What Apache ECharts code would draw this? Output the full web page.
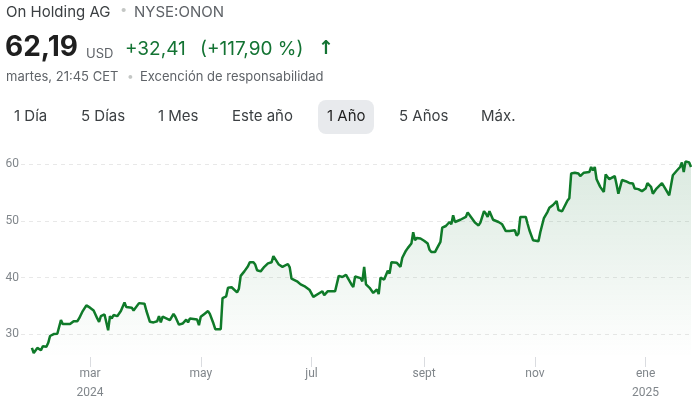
<!DOCTYPE html>
<html>
<head>
<meta charset="utf-8">
<script src="https://cdn.jsdelivr.net/npm/echarts@6/dist/echarts.min.js"></script>
<style>
html,body{margin:0;padding:0;background:#fff;}
#c{width:695px;height:399px;}
</style>
</head>
<body>
<div id="c"></div>
<script>
// ---- data ----
const dates = [
'2024-01-29','2024-01-30','2024-02-01','2024-02-03','2024-02-04','2024-02-06','2024-02-07','2024-02-08','2024-02-10','2024-02-11',
'2024-02-12','2024-02-14','2024-02-15','2024-02-17','2024-02-19','2024-02-21','2024-02-23','2024-02-24','2024-02-26','2024-02-27',
'2024-02-28','2024-03-01','2024-03-03','2024-03-04','2024-03-05','2024-03-06','2024-03-07','2024-03-09','2024-03-10','2024-03-11',
'2024-03-12','2024-03-13','2024-03-14','2024-03-16','2024-03-18','2024-03-20','2024-03-21','2024-03-24','2024-03-25','2024-03-28',
'2024-03-31','2024-04-01','2024-04-03','2024-04-05','2024-04-07','2024-04-08','2024-04-09','2024-04-10','2024-04-12','2024-04-14',
'2024-04-16','2024-04-17','2024-04-19','2024-04-21','2024-04-23','2024-04-24','2024-04-25','2024-04-27','2024-04-29','2024-04-30',
'2024-05-01','2024-05-03','2024-05-05','2024-05-06','2024-05-08','2024-05-09','2024-05-12','2024-05-13','2024-05-15','2024-05-16',
'2024-05-18','2024-05-19','2024-05-21','2024-05-22','2024-05-23','2024-05-25','2024-05-27','2024-05-28','2024-05-30','2024-05-31',
'2024-06-01','2024-06-03','2024-06-05','2024-06-07','2024-06-09','2024-06-10','2024-06-11','2024-06-13','2024-06-15','2024-06-16',
'2024-06-18','2024-06-19','2024-06-20','2024-06-23','2024-06-25','2024-06-26','2024-06-27','2024-06-30','2024-07-02','2024-07-05',
'2024-07-07','2024-07-08','2024-07-10','2024-07-12','2024-07-14','2024-07-16','2024-07-18','2024-07-20','2024-07-21','2024-07-23',
'2024-07-24','2024-07-25','2024-07-28','2024-07-29','2024-07-30','2024-07-31','2024-08-01','2024-08-02','2024-08-04','2024-08-05',
'2024-08-06','2024-08-07','2024-08-08','2024-08-10','2024-08-11','2024-08-12','2024-08-13','2024-08-14','2024-08-17','2024-08-18',
'2024-08-19','2024-08-20','2024-08-21','2024-08-22','2024-08-23','2024-08-25','2024-08-26','2024-08-27','2024-08-28','2024-08-30',
'2024-09-01','2024-09-03','2024-09-04','2024-09-05','2024-09-07','2024-09-08','2024-09-10','2024-09-11','2024-09-13','2024-09-14',
'2024-09-15','2024-09-16','2024-09-17','2024-09-18','2024-09-21','2024-09-24','2024-09-25','2024-09-27','2024-09-29','2024-10-01',
'2024-10-02','2024-10-04','2024-10-05','2024-10-06','2024-10-07','2024-10-09','2024-10-12','2024-10-14','2024-10-16','2024-10-18',
'2024-10-21','2024-10-22','2024-10-23','2024-10-24','2024-10-27','2024-10-28','2024-10-29','2024-10-31','2024-11-03','2024-11-04',
'2024-11-05','2024-11-06','2024-11-08','2024-11-09','2024-11-11','2024-11-12','2024-11-13','2024-11-14','2024-11-16','2024-11-17',
'2024-11-19','2024-11-20','2024-11-21','2024-11-23','2024-11-25','2024-11-26','2024-11-28','2024-12-01','2024-12-02','2024-12-03',
'2024-12-04','2024-12-05','2024-12-07','2024-12-09','2024-12-10','2024-12-12','2024-12-13','2024-12-15','2024-12-16','2024-12-17',
'2024-12-19','2024-12-21','2024-12-23','2024-12-25','2024-12-26','2024-12-28','2024-12-30','2025-01-01','2025-01-02','2025-01-04',
'2025-01-05','2025-01-07','2025-01-10','2025-01-12','2025-01-14','2025-01-15','2025-01-16','2025-01-18','2025-01-20','2025-01-21',
'2025-01-22','2025-01-23','2025-01-25','2025-01-26'
];
const prices = [
27.6,26.7,27.6,27.2,27.9,27.8,28.5,29.7,30.05,30.2,
30.1,32.5,31.8,31.8,31.8,32.3,32.3,32.8,34.1,34.2,
35.1,34.7,34.2,33.5,32.8,32.2,33.2,33.5,33.6,30.7,
33.2,32.8,33.4,33.2,34.1,35.6,34.8,34.7,34.2,35.5,
35.4,34.2,32.2,32.1,32.3,33.2,32.1,33.1,32.8,32.5,
33.6,33.1,31.7,31.9,32.6,32.1,32.8,32.7,32.6,31.6,
33.1,33.6,34.1,33.6,31.9,30.9,30.9,36.4,36.7,38.2,
38.3,38.5,37.4,38.0,40.3,41.1,42.0,42.7,42.7,42.3,
41.3,41.1,41.9,42.5,42.7,43.8,43.8,42.3,41.9,41.8,
42.4,41.8,39.8,39.35,38.8,39.1,38.5,37.8,36.6,37.2,
37.6,36.9,37.6,37.6,37.6,40.3,40.1,40.5,40.6,38.8,
38.35,40.2,39.9,39.35,41.9,38.8,38.6,38.2,37.3,37.2,
37.9,37.1,40.0,39.65,39.5,41.2,40.7,42.7,42.6,42.7,
41.9,43.5,43.2,44.75,45.2,46.0,48.0,46.6,47.0,46.9,
46.5,46.0,44.9,44.5,44.5,45.1,46.3,48.8,49.1,49.4,
49.8,49.4,51.0,49.8,50.2,50.7,51.5,50.6,49.7,49.2,
49.7,51.7,51.3,50.7,51.7,50.2,49.8,49.4,48.2,48.2,
48.35,47.4,47.8,50.7,50.7,49.5,48.35,46.6,46.4,48.0,
47.8,50.5,51.6,52.3,52.8,52.7,53.5,51.9,51.7,51.5,
53.6,54.0,58.35,58.5,58.35,57.9,58.5,58.6,59.5,58.9,
59.5,57.35,56.0,55.1,58.2,57.35,57.6,57.9,56.4,54.8,
57.2,57.0,56.7,56.6,55.7,55.6,55.25,55.7,56.65,56.0,
54.8,55.7,56.65,55.6,54.5,54.8,58.05,58.8,59.5,60.3,
58.6,60.5,60.3,59.5
];
const xTickDates = ['2024-03-01','2024-05-01','2024-07-01','2024-09-01','2024-11-01','2025-01-01'];
const xTickLabels = ['mar\n2024','may','jul','sept','nov','ene\n2025'];
const yTicks = [30,40,50,60];
const xStart = '2024-01-23';
const xEnd = '2025-01-26';
const yMin = 26, yMax = 62.5;

const rangeButtons = ['1 Día','5 Días','1 Mes','Este año','1 Año','5 Años','Máx.'];
const activeRange = '1 Año';

// ---- build ----
function ts(s){ const p = s.split('-').map(Number); return Date.UTC(p[0], p[1]-1, p[2]); }
const seriesData = dates.map((d,i)=>[ts(d), prices[i]]);
const xTickValues = xTickDates.map(ts);
const labelByTs = {};
xTickValues.forEach((v,i)=>{ labelByTs[v] = xTickLabels[i]; });

const FONT = 'Inter, Roboto, "Noto Sans", Arial, sans-serif';
const AXFONT = 'Roboto, "Noto Sans", Arial, sans-serif';
const GREEN = '#137333';
const LINE_GREEN = '#0f7a29';

const btnX = [14, 81, 158, 232, 327, 399, 481];
const graphics = [
  {type:'text', left:6, top:5, style:{text:'On Holding AG', font:'15px '+FONT, fill:'#3c4043'}},
  {type:'text', left:120, top:4, style:{text:'•', font:'13px '+FONT, fill:'#c4c7c5'}},
  {type:'text', left:134, top:5, style:{text:'NYSE:ONON', font:'15px '+FONT, fill:'#5f6368'}},
  {type:'text', left:5, top:34, style:{text:'62,19', font:'bold 28px '+FONT, fill:'#1f1f1f'}},
  {type:'text', left:86, top:48, style:{text:'USD', font:'13px '+FONT, fill:'#5f6368'}},
  {type:'text', left:125, top:40, style:{text:'+32,41', font:'19px '+FONT, fill:GREEN}},
  {type:'text', left:200, top:40, style:{text:'(+117,90 %)', font:'19px '+FONT, fill:GREEN}},
  {type:'text', left:318, top:40, style:{text:'↑', font:'bold 19px "DejaVu Sans", sans-serif', fill:GREEN}},
  {type:'text', left:6, top:71, style:{text:'martes, 21:45 CET', font:'13px '+FONT, fill:'#5f6368'}},
  {type:'text', left:127, top:70, style:{text:'•', font:'12px '+FONT, fill:'#c4c7c5'}},
  {type:'text', left:140, top:71, style:{text:'Excención de responsabilidad', font:'13px '+FONT, fill:'#5f6368'}},
  {type:'rect', left:318, top:100, shape:{width:56, height:34, r:8}, style:{fill:'#e8eaed'}}
];
rangeButtons.forEach((b,i)=>{
  graphics.push({type:'text', left:btnX[i], top:109, style:{text:b, font:'15px '+FONT, fill: b===activeRange ? '#1f1f1f' : '#3c4043'}});
});

const chart = echarts.init(document.getElementById('c'));
chart.setOption({
  animation:false,
  graphic: graphics,
  grid:{left:21, right:4, top:150, bottom:42, containLabel:false, outerBoundsMode:'none'},
  xAxis:{
    type:'value',
    min: ts(xStart), max: ts(xEnd),
    axisLine:{show:false},
    axisTick:{show:true, customValues:xTickValues, length:10, lineStyle:{color:'#dadce0'}},
    axisLabel:{customValues:xTickValues, margin:7, lineHeight:19, color:'#80868b', fontSize:12, fontFamily:AXFONT,
      formatter:(v)=> labelByTs[v] || ''},
    splitLine:{show:false}
  },
  yAxis:{
    type:'value', min:yMin, max:yMax,
    axisLine:{show:false}, axisTick:{show:false},
    axisLabel:{customValues:yTicks, margin:2, color:'#80868b', fontSize:12, fontFamily:AXFONT},
    splitLine:{show:true, showMinLine:false, showMaxLine:false, lineStyle:{color:'#e8e8e8', type:[4,4], width:1}}
  },
  series:[{
    type:'line', data:seriesData, showSymbol:false, smooth:false,
    lineStyle:{color:LINE_GREEN, width:2.5},
    areaStyle:{color:new echarts.graphic.LinearGradient(0,0,0,1,[
      {offset:0, color:'rgba(19,115,51,0.22)'},
      {offset:1, color:'rgba(19,115,51,0.0)'}
    ])}
  }]
});
</script>
</body>
</html>
